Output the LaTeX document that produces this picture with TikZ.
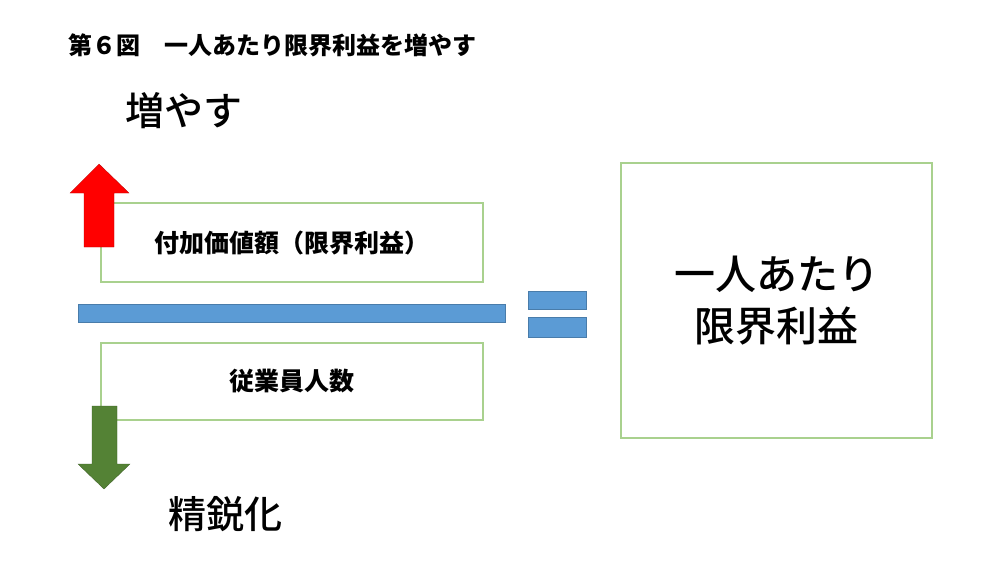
\documentclass[tikz,border=0pt]{standalone}
\usepackage{fontspec}
\newfontfamily\jp{Noto Sans CJK JP}
\newfontfamily\jpmed{Noto Sans CJK JP Medium}
\usetikzlibrary{positioning}

\definecolor{boxgreen}{HTML}{A9D18E}
\definecolor{barblue}{HTML}{5B9BD5}
\definecolor{arrowgreen}{HTML}{548235}

\tikzset{
  framebox/.style={draw=boxgreen, line width=1.2pt, inner sep=0pt, fill=white},
  label/.style={inner sep=0pt, font=\jp},
  bar/.style={fill=barblue, draw=barblue!80!black, line width=0.3pt}
}

\begin{document}
\begin{tikzpicture}[x=1pt, y=-1pt]
    \useasboundingbox (0,0) rectangle (1000,570);

    % Title
    \node[label, anchor=west, font=\jp\bfseries\fontsize{24}{28}\selectfont] (title) at (68,45) {第６図　一人あたり限界利益を増やす};

    % Upper arrow and label
    \node[label, anchor=west, font=\jpmed\fontsize{39}{44}\selectfont] (up) at (125,111) {増やす};
    \node[framebox, minimum width=382pt, minimum height=79pt,
          font=\jp\bfseries\fontsize{25}{30}\selectfont] (addval) at (292,242.5) {付加価値額（限界利益）};
    \draw[fill=red, draw=red!70!black, line width=0.3pt]
        (84,247) -- (84,193) -- (70,193) -- (99,164) -- (129,193) -- (114,193) -- (114,247) -- cycle;

    % Fraction bar
    \draw[bar] (78,304) rectangle (505,322);

    % Lower box and arrow
    \node[framebox, minimum width=382pt, minimum height=77pt,
          font=\jp\bfseries\fontsize{25}{30}\selectfont] (staff) at (292,381.5) {従業員人数};
    \draw[fill=arrowgreen, draw=arrowgreen!70!black, line width=0.3pt]
        (92,406) -- (117,406) -- (117,464) -- (130,464) -- (104,489) -- (78,464) -- (92,464) -- cycle;
    \node[label, anchor=west, font=\jpmed\fontsize{38}{44}\selectfont] (down) at (168,514) {精鋭化};

    % Equals sign
    \draw[bar] (528,291) rectangle (586,309);
    \draw[bar] (528,317) rectangle (586,337);

    % Result box
    \node[framebox, minimum width=311pt, minimum height=275pt, align=center,
          font=\jpmed\fontsize{41}{52}\selectfont] (result) at (776.5,300.5) {一人あたり\\限界利益};
\end{tikzpicture}
\end{document}
